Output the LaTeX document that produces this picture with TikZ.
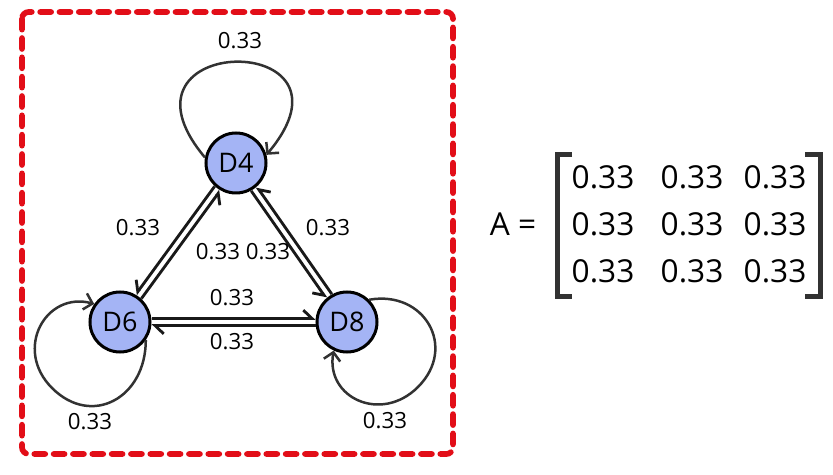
\documentclass[tikz,border=0pt]{standalone}
\usepackage{fontspec}
\setmainfont{Open Sans}
\usetikzlibrary{arrows.meta}

\definecolor{nodeblue}{RGB}{164,180,245}
\definecolor{boxred}{RGB}{226,14,24}
\definecolor{loopgray}{RGB}{50,50,50}

\tikzset{
  state/.style={circle, draw=black, line width=0.09cm, fill=nodeblue, minimum size=1.8cm, inner sep=0pt, font=\fontsize{23}{26}\selectfont},
  wlabel/.style={font=\fontsize{19}{22}\selectfont, inner sep=0pt},
  link/.style={line width=0.085cm, draw=black!90, -{Straight Barb[harpoon, length=2.6mm, width=5mm]}},
  linkswap/.style={line width=0.085cm, draw=black!90, -{Straight Barb[harpoon, swap, length=2.6mm, width=5mm]}},
  selfloop/.style={line width=0.075cm, draw=loopgray, -{Straight Barb[length=2.4mm, width=5mm]}},
  entry/.style={font=\fontsize{27}{30}\selectfont, inner sep=0pt},
  bracket/.style={line width=0.15cm, draw=loopgray}
}

\begin{document}
\begin{tikzpicture}[x=0.03cm, y=0.03cm]
  \useasboundingbox (0,0) rectangle (833,475);
  % dashed frame round the graph
  \draw[boxred, line width=0.17cm, line cap=round, dash pattern=on 0.33cm off 0.25cm, rounded corners=0.2cm] (22,463) rectangle (453,21);

  % the three states
  \node[state] (d4) at (236,312) {D4};
  \node[state] (d6) at (120,153) {D6};
  \node[state] (d8) at (347,153) {D8};
  \coordinate (lp6) at (52,87);
  \coordinate (lp8) at (418,88);

  % paired links
  \draw[linkswap, transform canvas={shift={(-2.83,2.06)}}] (d4) -- (d6);
  \draw[linkswap, transform canvas={shift={(2.83,-2.06)}}] (d6) -- (d4);
  \draw[linkswap, transform canvas={shift={(2.87,2.0)}}] (d8) -- (d4);
  \draw[linkswap, transform canvas={shift={(-2.87,-2.0)}}] (d4) -- (d8);
  \draw[link, transform canvas={shift={(0,3.5)}}] (d6) -- (d8);
  \draw[link, transform canvas={shift={(0,-3.5)}}] (d8) -- (d6);

  % self loops
  \draw[selfloop] (d4.170) .. controls +(130:164) and +(50:164) .. (d4.15);
  \draw[selfloop] (d6.-35) .. controls +(-90:58) and +(-45:56) .. (lp6) .. controls +(135:55) and +(165:50) .. (d6.145);
  \draw[selfloop] (d8.45) .. controls +(10:56) and +(45:56) .. (lp8) .. controls +(-135:52) and +(-100:48) .. (d8.-115);

  % weights
  \node[wlabel] (w44) at (240,434) {0.33};
  \node[wlabel] (w66) at (90,53) {0.33};
  \node[wlabel] (w88) at (385,54) {0.33};
  \node[wlabel] (w46) at (138,247) {0.33};
  \node[wlabel] (w64) at (218,223) {0.33};
  \node[wlabel] (w84) at (328,247) {0.33};
  \node[wlabel] (w48) at (268,223) {0.33};
  \node[wlabel] (w68) at (232,177) {0.33};
  \node[wlabel] (w86) at (232,133) {0.33};

  % transition matrix
  \node[entry] (aeq) at (513,251) {A =};
  \foreach \r/\y in {1/298,2/251,3/204} \foreach \c/\x in {1/603,2/692,3/775} {
    \node[entry] (m\r\c) at (\x,\y) {0.33};
  }
  \draw[bracket] (572,320) -- (557,320) -- (557,178) -- (572,178);
  \draw[bracket] (805,320) -- (820,320) -- (820,178) -- (805,178);
\end{tikzpicture}
\end{document}
